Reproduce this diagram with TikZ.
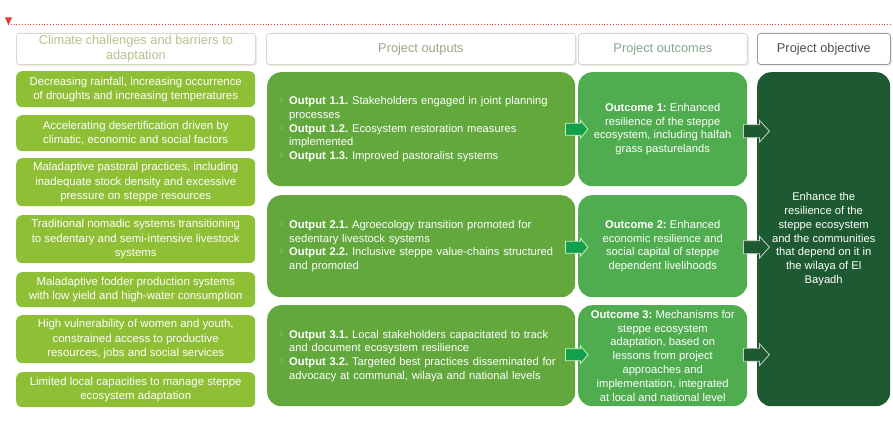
\documentclass[tikz,border=0pt]{standalone}
\usepackage{fontspec}
\setmainfont{Liberation Sans}
\newfontfamily\symfont{DejaVu Sans}
\usetikzlibrary{calc}
\frenchspacing

\definecolor{limegreen}{HTML}{8FBF35}
\definecolor{outgreen}{HTML}{62A83C}
\definecolor{ocgreen}{HTML}{4FAD4F}
\definecolor{objgreen}{HTML}{1D5A32}
\definecolor{arrowgreen}{HTML}{12A04C}
\definecolor{arrowline}{HTML}{C9EFC0}
\definecolor{darkline}{HTML}{C8D2C8}
\definecolor{hdrline}{HTML}{D6D9CC}
\definecolor{hdrshadow}{HTML}{ECEEE6}
\definecolor{objline}{HTML}{9A9A9A}
\definecolor{hdrtextA}{HTML}{B3C48E}
\definecolor{hdrtextB}{HTML}{98A88A}
\definecolor{hdrtextC}{HTML}{86A68C}
\definecolor{hdrtextD}{HTML}{505050}
\definecolor{bulletgreen}{HTML}{B9DC8E}
\definecolor{marker}{HTML}{E53935}

% bullet and hanging indent for the output lists
\newcommand\obul{\makebox[11pt][l]{\textcolor{bulletgreen}{\symfont\fontsize{11}{11}\selectfont ◦}}}
\newcommand\oind{\hspace*{11pt}}

% block arrow: fill, outline, tail point, shaft half height, head half height, shaft length, head length
\newcommand\blkarrow[7]{%
  \draw[fill=#1, draw=#2, line width=0.8pt, line join=miter]
    ($(#3)+(0,-#4)$) -- ++(#6,0) -- ++(0,{-(#5-#4)}) -- ++(#7,#5)
    -- ++(-#7,#5) -- ++(0,{-(#5-#4)}) -- ++(-#6,0) -- cycle;}

\begin{document}
\begin{tikzpicture}[x=1pt,y=-1pt,
  hdr/.style={draw=hdrline, fill=white, rounded corners=3pt, line width=0.8pt,
    anchor=north west, minimum height=31pt, inner sep=0pt, align=center,
    font=\fontsize{12.8}{15.5}\selectfont},
  challenge/.style={fill=limegreen, rounded corners=6pt, anchor=north west,
    minimum width=239pt, inner sep=0pt, align=center, text=white,
    font=\fontsize{11.4}{14.2}\selectfont},
  outbox/.style={fill=outgreen, rounded corners=14pt, anchor=north west,
    text width=286pt, inner xsep=11pt, inner ysep=0pt, align=left, text=white,
    font=\fontsize{11.2}{13.6}\selectfont},
  ocbox/.style={fill=ocgreen, rounded corners=14pt, anchor=north west,
    minimum width=169pt, inner sep=0pt, align=center, text=white,
    font=\fontsize{11.2}{13.8}\selectfont},
  objbox/.style={fill=objgreen, rounded corners=14pt, anchor=north west,
    minimum width=133pt, inner sep=0pt, align=center, text=white,
    font=\fontsize{11.2}{13.8}\selectfont}]

\useasboundingbox (0,0) rectangle (893,420);

% page marker
\draw[marker, dotted, line width=0.8pt] (8,24) -- (893,24);
\fill[marker] (5,17.5) -- (12,17.5) -- (8.5,25) -- cycle;

% soft shadows under the column headers
\fill[hdrshadow, rounded corners=3pt] (17,35) rectangle (257,66);
\fill[hdrshadow, rounded corners=3pt] (267,35) rectangle (577,66);
\fill[hdrshadow, rounded corners=3pt] (579,35) rectangle (749,66);
\fill[hdrshadow, rounded corners=3pt] (758,35) rectangle (892,66);

% column headers
\node[hdr, minimum width=239pt, text=hdrtextA] (h1) at (16,33)
  {Climate challenges and barriers to\\adaptation};
\node[hdr, minimum width=309pt, text=hdrtextB] (h2) at (266,33) {Project outputs};
\node[hdr, minimum width=169pt, text=hdrtextC] (h3) at (578,33) {Project outcomes};
\node[hdr, minimum width=133pt, text=hdrtextD, draw=objline] (h4) at (757,33) {Project objective};

% challenges and barriers
\node[challenge, minimum height=36pt] (c1) at (16,71)
  {Decreasing rainfall, increasing occurrence\\of droughts and increasing temperatures};
\node[challenge, minimum height=36pt] (c2) at (16,115)
  {Accelerating desertification driven by\\climatic, economic and social factors};
\node[challenge, minimum height=48pt] (c3) at (16,158)
  {Maladaptive pastoral practices, including\\inadequate stock density and excessive\\pressure on steppe resources};
\node[challenge, minimum height=48pt] (c4) at (16,215)
  {Traditional nomadic systems transitioning\\to sedentary and semi-intensive livestock\\systems};
\node[challenge, minimum height=35pt] (c5) at (16,272)
  {Maladaptive fodder production systems\\with low yield and high-water consumption};
\node[challenge, minimum height=48pt] (c6) at (16,315)
  {High vulnerability of women and youth,\\constrained access to productive\\resources, jobs and social services};
\node[challenge, minimum height=35pt] (c7) at (16,372)
  {Limited local capacities to manage steppe\\ecosystem adaptation};

% project outputs
\node[outbox, minimum height=114pt] (o1) at (267,72)
  {\obul\textbf{Output 1.1.} Stakeholders engaged in joint planning\\
   \oind processes\\
   \obul\textbf{Output 1.2.} Ecosystem restoration measures\\
   \oind implemented\\
   \obul\textbf{Output 1.3.} Improved pastoralist systems};
\node[outbox, minimum height=102pt] (o2) at (267,195)
  {\obul\textbf{Output 2.1.} Agroecology transition promoted for\\
   \oind sedentary livestock systems\\
   \obul\textbf{Output 2.2.} Inclusive steppe value-chains structured\\
   \oind and promoted};
\node[outbox, minimum height=101pt] (o3) at (267,305)
  {\obul\textbf{Output 3.1.} Local stakeholders capacitated to track\\
   \oind and document ecosystem resilience\\
   \obul\textbf{Output 3.2.} Targeted best practices disseminated for\\
   \oind advocacy at communal, wilaya and national levels};

% project outcomes
\node[ocbox, minimum height=114pt] (oc1) at (578,72)
  {\textbf{Outcome 1:} Enhanced\\resilience of the steppe\\ecosystem, including halfah\\grass pasturelands};
\node[ocbox, minimum height=102pt] (oc2) at (578,195)
  {\textbf{Outcome 2:} Enhanced\\economic resilience and\\social capital of steppe\\dependent livelihoods};
\node[ocbox, minimum height=101pt] (oc3) at (578,305)
  {\textbf{Outcome 3:} Mechanisms for\\steppe ecosystem\\adaptation, based on\\lessons from project\\approaches and\\implementation, integrated\\at local and national level};

% project objective
\node[objbox, minimum height=334pt] (obj) at (757,72)
  {Enhance the\\resilience of the\\steppe ecosystem\\and the communities\\that depend on it in\\the wilaya of El\\Bayadh};

% outputs to outcomes
\blkarrow{arrowgreen}{arrowline}{$(o1.east)+(-10,0)$}{6}{9}{15}{7.5}
\blkarrow{arrowgreen}{arrowline}{$(o2.east)+(-10,1)$}{6}{9}{15}{7.5}
\blkarrow{arrowgreen}{arrowline}{$(o3.east)+(-10,-1)$}{6}{9}{15}{7.5}

% outcomes to objective
\blkarrow{objgreen}{darkline}{$(oc1.east)+(-4,2)$}{6.5}{11}{16}{10}
\blkarrow{objgreen}{darkline}{$(oc2.east)+(-4,1)$}{6.5}{11}{16}{10}
\blkarrow{objgreen}{darkline}{$(oc3.east)+(-4,-1)$}{6.5}{11}{16}{10}

\end{tikzpicture}
\end{document}
